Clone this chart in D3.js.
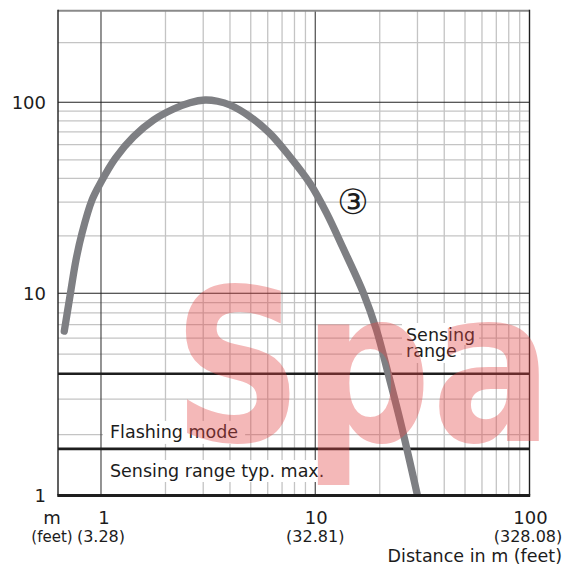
<!DOCTYPE html>
<html><head><meta charset="utf-8">
<script src="https://cdn.jsdelivr.net/npm/d3@7"></script>
<style>
body{margin:0;background:#fff}
svg{display:block}
text{font-family:"DejaVu Sans",sans-serif;fill:#1c1c1c}
</style>
</head><body>
<svg id="c" width="566" height="576"></svg>
<script>
// ---- data ----
const distance = [0.674,0.72,0.764,0.815,0.908,0.993,1.166,1.42,1.76,2.18,2.6,3.06,3.5,4.0,4.96,6.14,7.62,9.44,11.3,13.5,16.8,19.3,21.9,25.3,30];
const signal   = [6.5,10,14.9,20.6,30.8,37.7,50.9,66.1,80.8,92.2,99.5,102.7,101.2,96.8,84.1,68.8,51.9,37.7,26.3,17.2,10,6.6,4.0,2.19,1.0];
const xGridMinor = [2,3,4,5,6,7,8,9,20,30,40,50,60,70,80,90];
const xGridMajor = [1,10];
const yGridMinor = [2,3,5,6,7,8,9,20,30,40,50,60,70,80,90,200];
const yGridMajor = [10,100];
const thresholds = [4,1.7];               // sensing range, flashing mode
const xTicks = [1,10,100];
const xTickMetres = ["1","10","100"];
const xTickFeet = ["(3.28)","(32.81)","(328.08)"];
const yTicks = [1,10,100];
const yTickLabels = ["1","10","100"];

// ---- layout ----
const L=58, R=529.5, T=10.7, B=495.5;
const svg = d3.select("#c");
const x = d3.scaleLog().domain([0.63,100]).range([L,R]);
const y = d3.scaleLog().domain([1,10,100,290]).range([B,293.3,102.3,T]);

const gGrid = svg.append("g");
const gBox = svg.append("g");
const gThick = svg.append("g");
const gCurve = svg.append("g");
const gBorder = svg.append("g");
const gText = svg.append("g");
const gMark = svg.append("g");

// grid
gGrid.selectAll(".xm").data(xGridMinor).join("line")
  .attr("x1",d=>x(d)).attr("x2",d=>x(d)).attr("y1",T).attr("y2",B)
  .attr("stroke","#c4c4c4").attr("stroke-width",1.3);
gGrid.selectAll(".ym").data(yGridMinor).join("line")
  .attr("y1",d=>y(d)).attr("y2",d=>y(d)).attr("x1",L).attr("x2",R)
  .attr("stroke","#c4c4c4").attr("stroke-width",1.3);
gGrid.selectAll(".xM").data(xGridMajor).join("line")
  .attr("x1",d=>x(d)).attr("x2",d=>x(d)).attr("y1",T).attr("y2",B)
  .attr("stroke","#3a3a3a").attr("stroke-width",1.1);
gGrid.selectAll(".yM").data(yGridMajor).join("line")
  .attr("y1",d=>y(d)).attr("y2",d=>y(d)).attr("x1",L).attr("x2",R)
  .attr("stroke","#222").attr("stroke-width",1.1);

// threshold lines
gThick.selectAll("line").data(thresholds).join("line")
  .attr("y1",d=>y(d)).attr("y2",d=>y(d)).attr("x1",L).attr("x2",R)
  .attr("stroke","#1e1e1e").attr("stroke-width",2.6);

// curve
svg.append("defs").append("clipPath").attr("id","clip")
  .append("rect").attr("x",L).attr("y",0).attr("width",R-L).attr("height",B);
const line = d3.line().x(d=>x(d[0])).y(d=>y(d[1])).curve(d3.curveCatmullRom.alpha(0.5));
gCurve.append("path").attr("clip-path","url(#clip)")
  .attr("d", line(d3.zip(distance, signal)))
  .attr("fill","none").attr("stroke","#7e7f83").attr("stroke-width",7.3)
  .attr("stroke-linecap","round").attr("stroke-linejoin","round");

// borders
gBorder.append("line").attr("x1",L).attr("x2",R).attr("y1",T).attr("y2",T).attr("stroke","#8a8a8a").attr("stroke-width",2);
gBorder.append("line").attr("x1",L).attr("x2",L).attr("y1",T-1).attr("y2",B).attr("stroke","#1e1e1e").attr("stroke-width",1.4);
gBorder.append("line").attr("x1",R).attr("x2",R).attr("y1",T-1).attr("y2",B).attr("stroke","#1e1e1e").attr("stroke-width",1.4);
gBorder.append("line").attr("x1",L-0.7).attr("x2",R+0.7).attr("y1",B).attr("y2",B).attr("stroke","#1e1e1e").attr("stroke-width",2.8);

// in-plot labels with white boxes
function label(txt, px, py, size, padX, padTop, padBot){
  const t = gText.append("text").attr("x",px).attr("y",py).attr("font-size",size).text(txt);
  const b = t.node().getBBox();
  gBox.append("rect").attr("x",b.x-padX).attr("y",b.y-padTop)
    .attr("width",b.width+2*padX).attr("height",b.height+padTop+padBot).attr("fill","#fff");
  return t;
}
label("Flashing mode", x(1)+9, y(1.7)-11, 17.5, 7, 1, 2);
label("Sensing range typ. max.", x(1)+9, y(1)-18.5, 17.5, 7, 1, 1);
label("Sensing", 406, 341, 17.5, 4, 2, 0);
label("range", 406, 357, 17.5, 4, 0, 2);

gText.append("text").attr("x",353).attr("y",214).attr("text-anchor","middle")
  .attr("font-size",35).style("font-family",'"DejaVu Sans","Noto Sans CJK JP",sans-serif').text("③");

// y tick labels
gText.selectAll(".yt").data(yTicks).join("text")
  .attr("x",46).attr("y",d=>y(d)+6.5).attr("text-anchor","end").attr("font-size",18)
  .text((d,i)=>yTickLabels[i]);
// x tick labels
gText.selectAll(".xt").data(xTicks).join("text")
  .attr("x",(d,i)=>x(d)+(i===0?3:1)).attr("y",523.5).attr("text-anchor","middle").attr("font-size",18)
  .text((d,i)=>xTickMetres[i]);
gText.selectAll(".xf").data(xTicks).join("text")
  .attr("x",(d,i)=>x(d)+(i===2?-1.5:0)).attr("y",541.5).attr("text-anchor","middle").attr("font-size",16)
  .text((d,i)=>xTickFeet[i]);
gText.append("text").attr("x",52).attr("y",523.5).attr("text-anchor","middle").attr("font-size",18).text("m");
gText.append("text").attr("x",52).attr("y",541.5).attr("text-anchor","middle").attr("font-size",15).text("(feet)");
gText.append("text").attr("x",562).attr("y",562).attr("text-anchor","end").attr("font-size",17.5).text("Distance in m (feet)");

// watermark
gMark.append("text").attr("x",173).attr("y",441)
  .attr("font-size",213).attr("font-weight","bold")
  .attr("textLength",380).attr("lengthAdjust","spacingAndGlyphs")
  .style("fill","rgb(228,70,70)").attr("opacity",0.38).text("Spa");
</script>
</body></html>
